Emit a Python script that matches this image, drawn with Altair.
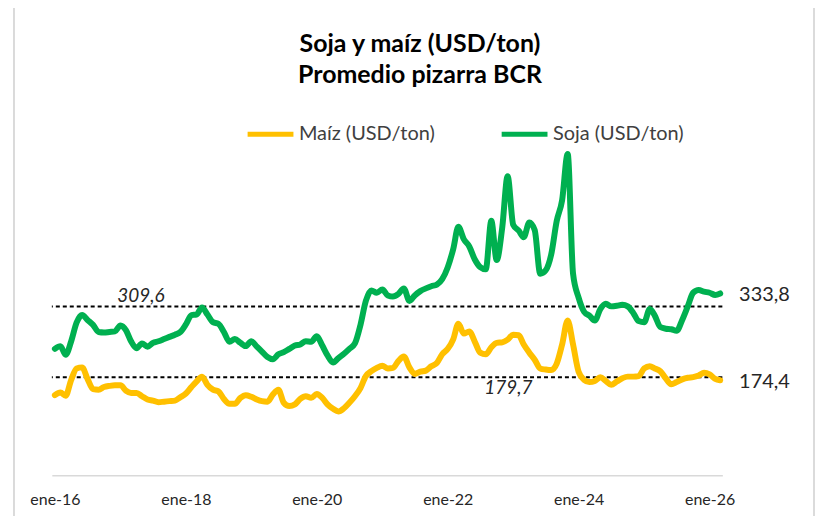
import altair as alt
import pandas as pd

# ---- data (monthly, ene-2016 .. mar-2026) ----
start_month = "2016-01-01"
series_names = ["Maíz (USD/ton)", "Soja (USD/ton)"]
series_colors = ["#FFC000", "#00B050"]

soja = [232, 237, 221, 246, 280, 294, 285, 276, 263, 262,
        263, 264, 275, 266, 246, 233, 242, 236, 243, 246,
        250, 254, 258, 263, 277, 294, 295, 308, 295, 281,
        278, 263, 245, 250, 243, 237, 246, 236, 227, 217,
        213, 222, 226, 232, 238, 240, 246, 245, 255, 238,
        220, 207, 215, 223, 232, 242, 276, 320, 339, 335,
        341, 330, 328, 333, 343, 320, 330, 338, 343, 347,
        350, 360, 382, 416, 456, 433, 420, 396, 382, 378,
        467, 395, 455, 549, 460, 449, 437, 464, 450, 370,
        376, 405, 467, 505, 590, 370, 326, 300, 293, 284,
        305, 315, 310, 311, 313, 310, 298, 283, 281, 305,
        293, 272, 269, 268, 265, 285, 310, 335, 340, 337,
        335, 331, 333.8]

maiz = [147, 152, 146, 175, 196, 198, 177, 158, 157, 162,
        164, 165, 165, 155, 151, 151, 145, 139, 137, 134,
        135, 136, 137, 143, 150, 162, 172, 181, 166, 157,
        154, 140, 131, 131, 142, 147, 144, 139, 136, 135,
        148, 157, 133, 127, 130, 140, 145, 142, 149, 142,
        130, 122, 117, 123, 133, 145, 160, 182, 191, 197,
        201, 196, 197, 210, 218, 198, 186, 190, 192, 200,
        206, 222, 232, 250, 278, 260, 264, 245, 225, 222,
        235, 243, 244, 249, 258, 257, 240, 225, 212, 196,
        194, 193, 205, 240, 284, 240, 190, 175, 171, 173,
        180, 173, 166, 172, 178, 181, 181, 182, 196, 200,
        196, 191, 178, 167, 171, 176, 179, 180, 183, 188,
        185, 177, 174.4]

ref_levels = [309.6, 179.7]
ref_labels = ["309,6", "179,7"]
ref_label_dates = ["2017-04-25", "2022-12-05"]
end_labels = ["174,4", "333,8"]
tick_years = [2016, 2018, 2020, 2022, 2024, 2026]

months = [d.strftime("%Y-%m-%d") for d in pd.date_range(start_month, periods=len(soja), freq="MS")]

df = pd.DataFrame({
    "fecha": months * 2,
    "serie": [series_names[0]] * len(maiz) + [series_names[1]] * len(soja),
    "valor": maiz + soja,
})
last = pd.DataFrame({
    "fecha": [months[-1], months[-1]],
    "serie": series_names,
    "valor": [maiz[-1], soja[-1]],
    "texto": end_labels,
})
refs = pd.DataFrame({"valor": ref_levels, "texto": ref_labels, "fecha": ref_label_dates})

FONT = "Lato"

x_scale = alt.Scale(
    domain=[alt.DateTime(year=2015, month=12, date=15, utc=True),
            alt.DateTime(year=2026, month=3, date=13, utc=True)],
)
y_scale = alt.Scale(domain=[0, 600], nice=False, zero=True)

x_axis = alt.Axis(
    values=[alt.DateTime(year=y, month=1, date=1, utc=True) for y in tick_years],
    labelExpr="'ene-' + utcFormat(datum.value, '%y')",
    title=None, ticks=False, grid=False,
    domainColor="#D9D9D9", domainWidth=1.5,
    labelFont=FONT, labelFontSize=16, labelColor="#262626", labelPadding=16,
    labelFlush=False, labelOverlap=False,
)

X = alt.X("fecha:T", scale=x_scale, axis=x_axis)
Y = alt.Y("valor:Q", scale=y_scale, axis=None)

lines = alt.Chart(df).mark_line(
    strokeWidth=6, strokeCap="round", strokeJoin="round", interpolate="monotone"
).encode(
    x=X, y=Y,
    color=alt.Color(
        "serie:N",
        scale=alt.Scale(domain=series_names, range=series_colors),
        legend=alt.Legend(
            title=None, orient="none", direction="horizontal",
            legendX=194, legendY=-40, padding=0,
            symbolType="stroke", symbolSize=2116, symbolStrokeWidth=5,
            labelFont=FONT, labelFontSize=20, labelColor="#404040",
            labelOffset=3, columnPadding=56,
        ),
    ),
)

rules = alt.Chart(refs).mark_rule(
    color="black", strokeWidth=2, strokeDash=[4, 3]
).encode(y=Y)

ref_top = alt.Chart(refs.iloc[[0]]).mark_text(
    font=FONT, fontSize=19, fontStyle="italic", color="#262626", dy=-11
).encode(x=X, y=Y, text="texto:N")

ref_bottom = alt.Chart(refs.iloc[[1]]).mark_text(
    font=FONT, fontSize=19, fontStyle="italic", color="#262626", dy=11
).encode(x=X, y=Y, text="texto:N")

end_text = alt.Chart(last).mark_text(
    font=FONT, fontSize=20, align="left", baseline="middle", dx=19, dy=2, color="#262626"
).encode(x=X, y=Y, text="texto:N")

# chart-area frame (left and right edges)
border_left = alt.Chart(refs).mark_rule(color="#D9D9D9", strokeWidth=1.5).encode(
    x=alt.value(-38), y=alt.value(-148), y2=alt.value(382))
border_right = alt.Chart(refs).mark_rule(color="#D9D9D9", strokeWidth=1.5).encode(
    x=alt.value(765), y=alt.value(-148), y2=alt.value(382))

chart = alt.layer(
    border_left, border_right, rules, lines, ref_top, ref_bottom, end_text
).properties(
    width=673, height=328,
    title=alt.TitleParams(
        text=["Soja y maíz (USD/ton)", "Promedio pizarra BCR"],
        font=FONT, fontSize=25, fontWeight="bold", color="black",
        anchor="middle", dx=33, offset=-88, lineHeight=31,
    ),
    autosize=alt.AutoSizeParams(type="none"),
    padding={"left": 44, "top": 140, "right": 93, "bottom": 40},
).configure_view(stroke=None)

chart.save("out.html", embed_options={"renderer": "svg", "actions": False})
